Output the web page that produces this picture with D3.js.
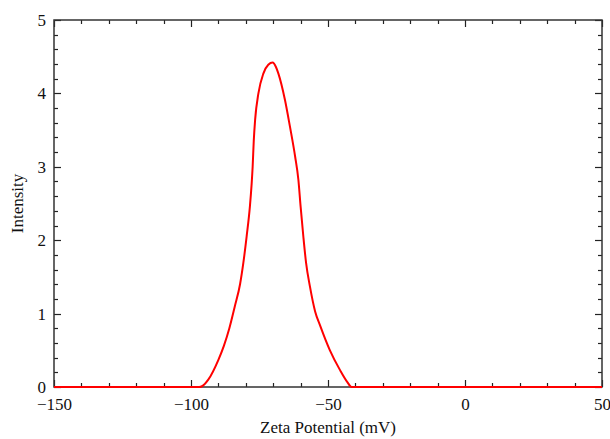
<!DOCTYPE html>
<html>
<head>
<meta charset="utf-8">
<script src="https://cdn.jsdelivr.net/npm/d3@7"></script>
<style>
  body { margin: 0; background: #fff; }
  svg text { font-family: "Liberation Serif", "DejaVu Serif", serif; fill: #111; }
</style>
</head>
<body>
<svg id="chart" width="610" height="439"></svg>
<script>
// Zeta potential distribution
const potential = [-150, -97, -96, -93.7, -90, -88, -86, -84, -82.1, -80.9, -79.7, -78.5, -77.9,
  -77.5, -77.1, -76.6, -75.4, -73.6, -71.8, -70.2, -69, -68.1, -65.7, -63.9, -62, -60.8,
  -60, -59, -58, -56.6, -54.7, -52.9, -49.3, -45.6, -43, -41.4, 50];
const intensity = [0, 0, 0.01, 0.1, 0.37, 0.56, 0.8, 1.1, 1.4, 1.69, 2.05, 2.46, 2.75,
  3.0, 3.35, 3.64, 4.0, 4.27, 4.39, 4.42, 4.36, 4.27, 3.91, 3.55, 3.14, 2.82,
  2.46, 2.05, 1.69, 1.37, 1.03, 0.84, 0.5, 0.23, 0.07, 0, 0];
const xTicks = [-150, -100, -50, 0, 50];
const yTicks = [0, 1, 2, 3, 4, 5];

const svg = d3.select("#chart");
const margin = {top: 20, right: 8, bottom: 52, left: 54};
const width = 610 - margin.left - margin.right;
const height = 439 - margin.top - margin.bottom;
const g = svg.append("g").attr("transform", `translate(${margin.left},${margin.top})`);

const x = d3.scaleLinear().domain([-150, 50]).range([0, width]);
const y = d3.scaleLinear().domain([0, 5]).range([height, 0]);

const minorX = d3.range(-150, 51, 10);
const minorY = d3.range(0, 5.01, 0.2);

// tick labels via d3 axes (lines drawn separately below)
const fmt = d3.format("d");
const xAxis = g.append("g").attr("transform", `translate(0,${height})`)
  .call(d3.axisBottom(x).tickValues(xTicks).tickSize(0).tickPadding(11).tickFormat(fmt));
const yAxis = g.append("g")
  .call(d3.axisLeft(y).tickValues(yTicks).tickSize(0).tickPadding(8).tickFormat(fmt));
[xAxis, yAxis].forEach(a => {
  a.select(".domain").remove();
  a.selectAll("text").attr("font-size", "17px");
});

// inward tick marks on all four sides
const ticks = g.append("g").attr("stroke", "#222").attr("stroke-width", 1.2);
const xt = minorX.map(v => ({v, len: xTicks.includes(v) ? 7 : 4}));
const yt = minorY.map(v => ({v, len: yTicks.some(t => Math.abs(t - v) < 1e-6) ? 7 : 4}));

ticks.selectAll(".xb").data(xt).join("line").attr("class", "xb")
  .attr("x1", d => Math.round(x(d.v)) + 0.5).attr("x2", d => Math.round(x(d.v)) + 0.5)
  .attr("y1", height).attr("y2", d => height - d.len);
ticks.selectAll(".xt").data(xt).join("line").attr("class", "xt")
  .attr("x1", d => Math.round(x(d.v)) + 0.5).attr("x2", d => Math.round(x(d.v)) + 0.5)
  .attr("y1", 0).attr("y2", d => d.len);
ticks.selectAll(".yl").data(yt).join("line").attr("class", "yl")
  .attr("y1", d => Math.round(y(d.v)) + 0.5).attr("y2", d => Math.round(y(d.v)) + 0.5)
  .attr("x1", 0).attr("x2", d => d.len);
ticks.selectAll(".yr").data(yt).join("line").attr("class", "yr")
  .attr("y1", d => Math.round(y(d.v)) + 0.5).attr("y2", d => Math.round(y(d.v)) + 0.5)
  .attr("x1", width).attr("x2", d => width - d.len);

// frame
g.append("rect")
  .attr("width", width).attr("height", height)
  .attr("fill", "none").attr("stroke", "#333").attr("stroke-width", 1.5);

// curve
const pts = potential.map((p, i) => [p, intensity[i]]);
g.append("path")
  .datum(pts)
  .attr("fill", "none")
  .attr("stroke", "#ff0000")
  .attr("stroke-width", 2)
  .attr("d", d3.line().x(d => x(d[0])).y(d => y(d[1])).curve(d3.curveMonotoneX));

// axis titles
svg.append("text")
  .attr("x", margin.left + width / 2)
  .attr("y", 433)
  .attr("text-anchor", "middle")
  .attr("font-size", "17px")
  .text("Zeta Potential (mV)");

svg.append("text")
  .attr("transform", `translate(23,${margin.top + height / 2}) rotate(-90)`)
  .attr("text-anchor", "middle")
  .attr("font-size", "17px")
  .text("Intensity");
</script>
</body>
</html>
